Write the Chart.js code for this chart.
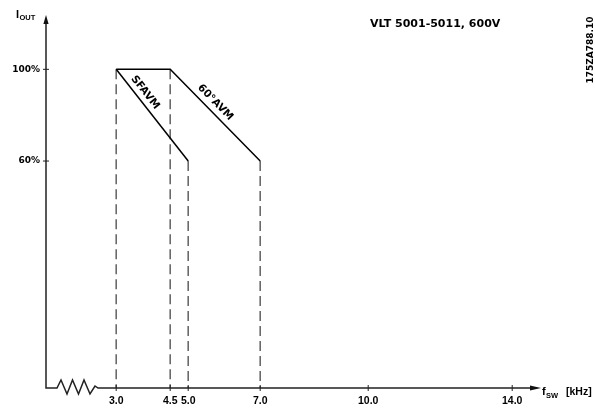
<!DOCTYPE html>
<html><head><meta charset="utf-8">
<script src="https://cdn.jsdelivr.net/npm/chart.js@4/dist/chart.umd.min.js"></script>
<style>html,body{margin:0;padding:0;background:#fff;}#wrap{width:595px;height:410px;}</style>
</head><body><div id="wrap"><canvas id="c" width="595" height="410"></canvas></div>
<script>
// ---- data ----
const freqTicks = [3.0, 4.5, 5.0, 7.0, 10.0, 14.0];   // kHz
const currentTicks = [60, 100];                       // %
const sfavmFreq = [3.0, 5.0];
const sfavmCurrent = [100, 60];
const avm60Freq = [3.0, 4.5, 7.0];
const avm60Current = [100, 100, 60];
const dropFreq = [3.0, 4.5, 5.0, 7.0];
const dropCurrent = [100, 100, 60, 60];
const seriesNames = ['SFAVM', '60°AVM'];
const titleText = 'VLT 5001-5011, 600V';
const drawingId = '175ZA788.10';

const toPts = (xs, ys) => xs.map((x, i) => ({x: x, y: ys[i]}));

const decor = {
  id: 'decor',
  beforeDatasetsDraw(chart) {
    const ctx = chart.ctx, xs = chart.scales.x, ys = chart.scales.y;
    ctx.save();
    ctx.strokeStyle = '#6a6a6a';
    ctx.lineWidth = 1.6;
    ctx.setLineDash([10, 5]);
    dropFreq.forEach((f, i) => {
      const px = xs.getPixelForValue(f);
      ctx.beginPath();
      ctx.moveTo(px, ys.getPixelForValue(dropCurrent[i]));
      ctx.lineTo(px, ys.bottom);
      ctx.stroke();
    });
    ctx.restore();
  },
  afterDraw(chart) {
    const ctx = chart.ctx, xs = chart.scales.x, ys = chart.scales.y;
    const a = chart.chartArea;
    ctx.save();
    // axes
    ctx.strokeStyle = '#222';
    ctx.lineWidth = 1.5;
    ctx.beginPath();
    ctx.moveTo(a.left, a.top + 4);
    ctx.lineTo(a.left, a.bottom);
    ctx.lineTo(a.left + 11, a.bottom);
    const zz = [[15, -8], [21, 6], [26.5, -8], [32.5, 6], [38, -8], [44, 6], [49, -2]];
    zz.forEach(p => ctx.lineTo(a.left + p[0], a.bottom + p[1]));
    ctx.lineTo(a.left + 52, a.bottom);
    ctx.lineTo(a.right - 8, a.bottom);
    ctx.stroke();
    // arrows
    ctx.fillStyle = '#111';
    ctx.beginPath();
    ctx.moveTo(a.left, a.top);
    ctx.lineTo(a.left - 2.6, a.top + 9);
    ctx.lineTo(a.left + 2.6, a.top + 9);
    ctx.closePath(); ctx.fill();
    ctx.beginPath();
    ctx.moveTo(a.right, a.bottom);
    ctx.lineTo(a.right - 11, a.bottom - 2.6);
    ctx.lineTo(a.right - 11, a.bottom + 2.6);
    ctx.closePath(); ctx.fill();
    // tick marks
    ctx.lineWidth = 1;
    ctx.strokeStyle = '#222';
    freqTicks.forEach(f => {
      const px = xs.getPixelForValue(f);
      ctx.beginPath(); ctx.moveTo(px, a.bottom - 3); ctx.lineTo(px, a.bottom + 3); ctx.stroke();
    });
    currentTicks.forEach(v => {
      const py = ys.getPixelForValue(v);
      ctx.beginPath(); ctx.moveTo(a.left - 3, py); ctx.lineTo(a.left + 3, py); ctx.stroke();
    });
    // series labels along the slopes
    const labelSeg = [
      {fx: sfavmFreq, cy: sfavmCurrent, i0: 0, t: 0.31, off: 8.5},
      {fx: avm60Freq, cy: avm60Current, i0: 1, t: 0.43, off: 9}
    ];
    ctx.fillStyle = '#000';
    ctx.font = 'bold 10.5px "DejaVu Sans"';
    ctx.textAlign = 'center';
    ctx.textBaseline = 'middle';
    labelSeg.forEach((s, k) => {
      const x0 = xs.getPixelForValue(s.fx[s.i0]), y0 = ys.getPixelForValue(s.cy[s.i0]);
      const x1 = xs.getPixelForValue(s.fx[s.i0 + 1]), y1 = ys.getPixelForValue(s.cy[s.i0 + 1]);
      const dx = x1 - x0, dy = y1 - y0, len = Math.hypot(dx, dy);
      const cx = x0 + dx * s.t + dy / len * s.off;
      const cy = y0 + dy * s.t - dx / len * s.off;
      ctx.save();
      ctx.translate(cx, cy);
      ctx.rotate(Math.atan2(dy, dx));
      ctx.fillText(seriesNames[k], 0, 0);
      ctx.restore();
    });
    // texts
    ctx.textAlign = 'left';
    ctx.textBaseline = 'alphabetic';
    ctx.font = 'bold 11px "DejaVu Sans"';
    ctx.fillText(titleText, 370, 27);
    ctx.font = 'bold 11px "Liberation Sans"';
    ctx.fillText('I', 16, 18);
    ctx.font = 'bold 7.5px "Liberation Sans"';
    ctx.fillText('OUT', 19.5, 20);
    ctx.font = 'bold 11px "Liberation Sans"';
    ctx.fillText('f', 542, 395);
    ctx.font = 'bold 7.5px "Liberation Sans"';
    ctx.fillText('SW', 546, 398);
    ctx.font = 'bold 10.5px "Liberation Sans"';
    ctx.fillText('[kHz]', 566, 395);
    ctx.save();
    ctx.translate(593, 50);
    ctx.rotate(-Math.PI / 2);
    ctx.textAlign = 'center';
    ctx.font = 'bold 9px "DejaVu Sans"';
    ctx.fillText(drawingId, 0, 0);
    ctx.restore();
    ctx.restore();
  }
};

new Chart(document.getElementById('c'), {
  type: 'line',
  data: {
    datasets: [
      {label: seriesNames[0], data: toPts(sfavmFreq, sfavmCurrent), borderColor: '#000', borderWidth: 1.5, pointRadius: 0, fill: false, tension: 0},
      {label: seriesNames[1], data: toPts(avm60Freq, avm60Current), borderColor: '#000', borderWidth: 1.5, pointRadius: 0, fill: false, tension: 0}
    ]
  },
  options: {
    responsive: false,
    animation: false,
    layout: {padding: {left: 0, top: 15, right: 54, bottom: 0}},
    plugins: {legend: {display: false}, tooltip: {enabled: false}},
    scales: {
      x: {
        type: 'linear', min: 1.05, max: 14.8,
        afterBuildTicks: s => { s.ticks = freqTicks.map(v => ({value: v})); },
        afterFit: s => { s.height = 22; },
        grid: {display: false, drawTicks: false}, border: {display: false},
        ticks: {padding: 7, color: '#000', font: {family: 'Liberation Sans', weight: 'bold', size: 10.5}, maxRotation: 0, autoSkip: false,
          callback: v => Number(v).toFixed(1)}
      },
      y: {
        type: 'linear', min: -39, max: 123.7,
        afterBuildTicks: s => { s.ticks = currentTicks.map(v => ({value: v})); },
        afterFit: s => { s.width = 46; },
        grid: {display: false, drawTicks: false}, border: {display: false},
        ticks: {padding: 6, color: '#000', font: {family: 'DejaVu Sans', weight: 'bold', size: 9}, autoSkip: false,
          callback: v => v + '%'}
      }
    }
  },
  plugins: [decor]
});
</script></body></html>
